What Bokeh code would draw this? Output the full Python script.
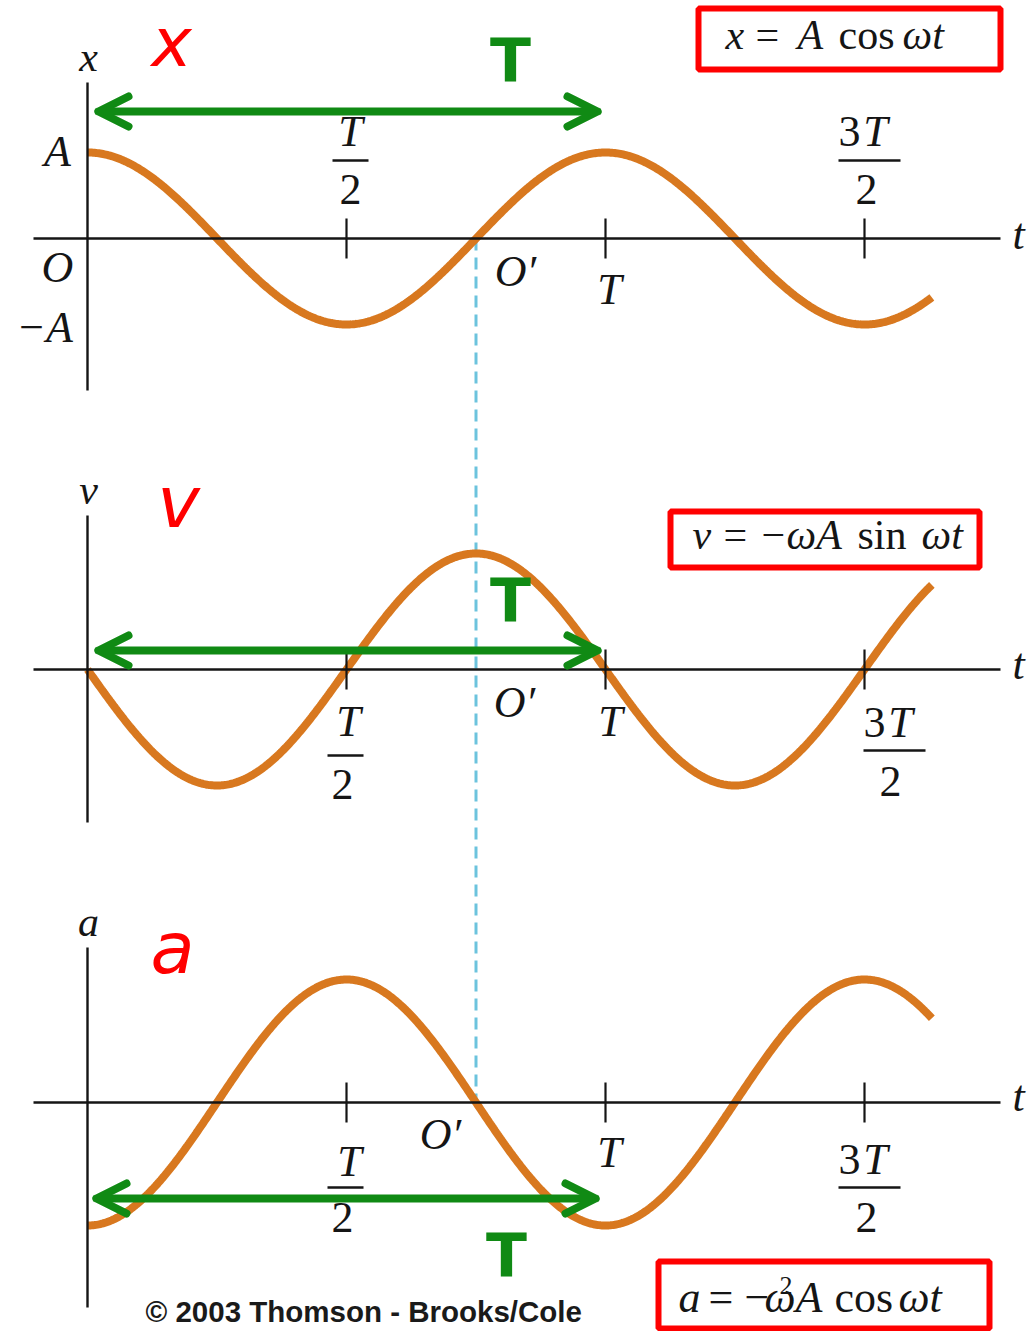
import numpy as np
from bokeh.plotting import figure
from bokeh.models import Range1d, Arrow, OpenHead
from bokeh.core.properties import value
from bokeh.embed import file_html
from bokeh.resources import INLINE

# ---- quantities (time in units of the period T) ----
PERIOD = 1.0
tick_times = [0.5, 1.0, 1.5]          # T/2, T, 3T/2
t_end = 1.63                          # curves stop a little past 3T/2
t_shift = 0.75                        # new origin O'

# panel baselines and amplitudes (canvas rows)
x_row, x_amp = 238, 86
v_row, v_amp = 669, 116
a_row, a_amp = 1102, 123

W, H = 1027, 1331
PX_PER_T = 518.0
T0_PX = 87.0
BASELINE_FIX = 0.36   # the svg text baseline sits this fraction of the font size low


def tp(px):
    """canvas column -> time (in periods)"""
    return (px - T0_PX) / PX_PER_T


ORANGE = "#d8781f"
GREEN = "#108a14"
RED = "#ff0000"
INK = "#151515"
CYAN = "#6cc3dd"
SERIF = "Liberation Serif"

p = figure(width=W, height=H, output_backend="svg", toolbar_location=None,
           x_range=Range1d(tp(0), tp(W)), y_range=Range1d(H, 0),
           min_border=0, outline_line_color=None, background_fill_color="white")
p.axis.visible = False
p.grid.visible = False

# ---- curves ----
omega = 2 * np.pi / PERIOD
t = np.linspace(0, t_end, 600)
x_norm = np.cos(omega * t)           # x = A cos wt
v_norm = -np.sin(omega * t)          # v = -wA sin wt
a_norm = -np.cos(omega * t)          # a = -w^2 A cos wt

# dashed marker of the shifted origin O'
p.line([t_shift, t_shift], [x_row, a_row], line_color=CYAN, line_width=3,
       line_dash="12 7")

for row, amp, yn in [(x_row, x_amp, x_norm), (v_row, v_amp, v_norm), (a_row, a_amp, a_norm)]:
    p.line(t, row - amp * yn, line_color=ORANGE, line_width=8)

# ---- axes ----
vert_extent = {x_row: (82, 390), v_row: (515, 822), a_row: (947, 1307)}
for row in (x_row, v_row, a_row):
    p.line([tp(33), tp(1000)], [row, row], line_color=INK, line_width=2.4)
    top, bot = vert_extent[row]
    p.line([0, 0], [top, bot], line_color=INK, line_width=2.4)
    p.segment(x0=tick_times, y0=[row - 20] * 3, x1=tick_times, y1=[row + 20] * 3,
              line_color=INK, line_width=2.2)


def txt(x_px, row, s, size, style="italic", align="center", font=SERIF, color=INK):
    p.text(x=[tp(x_px)], y=[row - BASELINE_FIX * size], text=[s], text_font=value(font),
           text_font_size=f"{size}px", text_font_style=style, text_align=align,
           text_baseline="alphabetic", text_color=color)


def bar(x0, x1, row):
    p.line([tp(x0), tp(x1)], [row, row], line_color=INK, line_width=2.4)


def half(cx_num, cx_den, x0, x1, num_row, bar_row, den_row):
    txt(cx_num, num_row, "T", 44)
    bar(x0, x1, bar_row)
    txt(cx_den, den_row, "2", 44, style="normal")


def three_half(c3, cT, x0, x1, cden, num_row, bar_row, den_row):
    txt(c3, num_row, "3", 44, style="normal")
    txt(cT, num_row, "T", 44)
    bar(x0, x1, bar_row)
    txt(cden, den_row, "2", 44, style="normal")


# ---- top panel labels ----
txt(88, 72, "x", 42)
txt(57, 167, "A", 44)
txt(57, 283, "O", 44)
txt(44, 343, "\u2212A", 44)
half(350, 350, 332, 368, 147, 160, 205)
txt(515, 287, "O\u2032", 44)
txt(609, 305, "T", 44)
three_half(849, 875, 838, 900, 866, 147, 160, 205)
txt(1012, 250, "t", 44, align="left")

# ---- middle panel labels ----
txt(88, 505, "v", 42)
half(348, 342, 327, 363, 737, 755, 800)
txt(514, 718, "O\u2032", 44)
txt(610, 737, "T", 44)
three_half(874, 900, 863, 925, 890, 738, 750, 797)
txt(1012, 680, "t", 44, align="left")

# ---- bottom panel labels ----
txt(88, 937, "a", 42)
half(349, 342, 327, 363, 1177, 1187, 1233)
txt(440, 1150, "O\u2032", 44)
txt(609, 1168, "T", 44)
three_half(849, 875, 838, 900, 866, 1175, 1187, 1233)
txt(1012, 1112, "t", 44, align="left")

# ---- red quantity names ----
for cx, row, s, size in [(171, 66, "x", 68), (178, 527, "v", 72), (172, 973, "a", 72)]:
    txt(cx, row, s, size, font="DejaVu Sans", color=RED)

# ---- period arrows and their labels ----
for row, xs, xe in [(111, 98, 597), (650, 98, 597), (1198, 96, 595)]:
    head = dict(size=30, line_width=8, line_color=GREEN, line_cap="round", line_join="round")
    p.add_layout(Arrow(x_start=tp(xs), y_start=row, x_end=tp(xe), y_end=row,
                       start=OpenHead(**head), end=OpenHead(**head),
                       line_color=GREEN, line_width=8, line_cap="round"))
for cx, row in [(510, 82), (510, 622), (506, 1277)]:
    txt(cx, row, "T", 60, style="bold", font="DejaVu Sans", color=GREEN)

# ---- formula boxes ----
boxes_l = [tp(698), tp(670), tp(658)]
boxes_r = [tp(1000), tp(979), tp(989)]
boxes_t = [8, 511, 1261]
boxes_b = [69, 567, 1328]
p.quad(left=boxes_l, right=boxes_r, top=boxes_t, bottom=boxes_b,
       fill_color=None, line_color=RED, line_width=6)

formula_runs = [
    # (left column, baseline, text, style, size)
    (725, 50, "x", "italic", 42), (755, 50, "=", "normal", 42), (797, 50, "A", "italic", 42),
    (838, 50, "cos", "normal", 42), (902, 50, "\u03c9t", "italic", 42),
    (692, 550, "v", "italic", 42), (723, 550, "=", "normal", 42), (761, 550, "\u2212", "normal", 42),
    (786, 550, "\u03c9A", "italic", 42), (857, 550, "sin", "normal", 42), (921, 550, "\u03c9t", "italic", 42),
    (678, 1313, "a", "italic", 44), (708, 1313, "=", "normal", 44), (744, 1313, "\u2212", "normal", 44),
    (764, 1313, "\u03c9", "italic", 44), (779, 1294, "2", "normal", 26), (795, 1313, "A", "italic", 44),
    (834, 1313, "cos", "normal", 44), (898, 1313, "\u03c9t", "italic", 44),
]
for xl, row, s, style, size in formula_runs:
    txt(xl, row, s, size, style=style, align="left")

# ---- credit line ----
txt(145, 1322, "\u00a9 2003 Thomson - Brooks/Cole", 29.5, style="bold", align="left",
    font="Liberation Sans", color="#1a1a1a")

open("out.html", "w").write(file_html(p, INLINE))
